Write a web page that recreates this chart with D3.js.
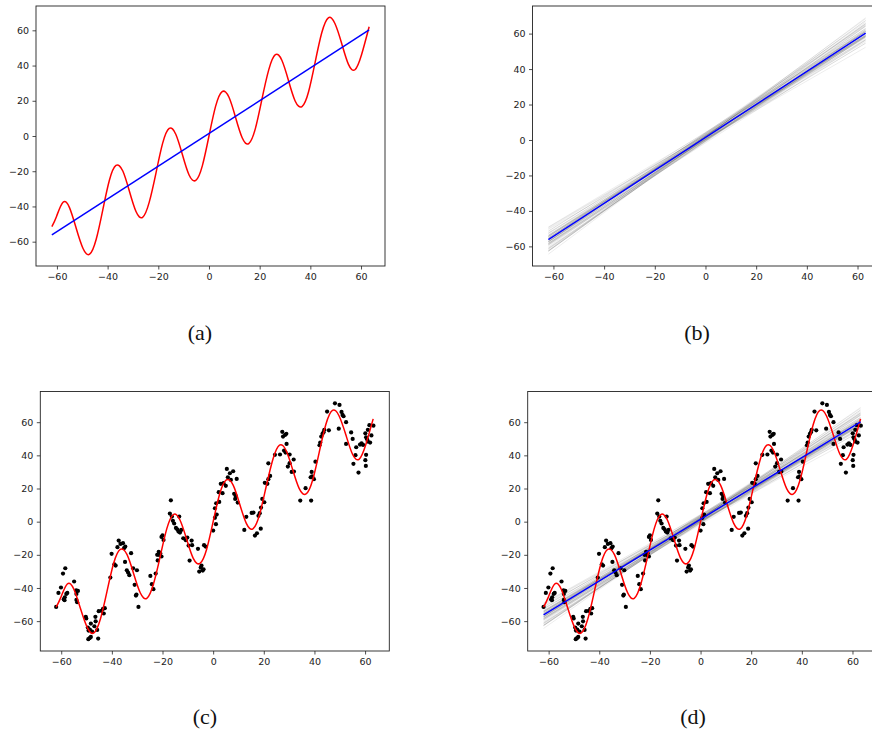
<!DOCTYPE html>
<html>
<head>
<meta charset="utf-8">
<script src="https://cdn.jsdelivr.net/npm/d3@7"></script>
<style>
	body { margin: 0; background: #fff; }
	svg { display: block; }
	.tick text { font-family: "DejaVu Sans", sans-serif; font-size: 9.5px; fill: #222; }
	.tick line { stroke: #222; stroke-width: 0.8; }
	.caption { font-family: "Liberation Serif", "DejaVu Serif", serif; font-size: 22px; fill: #111; }
</style>
</head>
<body>
<div id="figure"></div>
<script>
// Tick values shared by every panel
var xTicks = [-60, -40, -20, 0, 20, 40, 60];
var yTicks = [-60, -40, -20, 0, 20, 40, 60];
var panelLabels = ["(a)", "(b)", "(c)", "(d)"];

// Red curve (the true function)
var curveX = [-62.0, -60.2, -57.6, -55.0, -52.4, -49.7, -47.1, -44.5, -41.9, -39.3, -36.7, -34.0, -31.4,
	-28.8, -26.2, -23.6, -20.9, -18.3, -15.7, -13.1, -10.5, -7.9, -5.2, -2.6, 0, 2.6, 5.2, 7.9, 10.5,
	13.1, 15.7, 18.3, 20.9, 23.6, 26.2, 28.8, 31.4, 34.0, 36.7, 39.3, 41.9, 44.5, 47.1, 49.7, 52.4,
	55.0, 57.6, 60.2, 63.2];
var curveY = [-51.5, -45.8, -37.6, -40.8, -52.4, -63.9, -67.1, -58.6, -41.9, -25.1, -16.7, -19.9, -31.4,
	-42.9, -46.2, -37.7, -20.9, -4.2, 4.3, 1.0, -10.5, -22.0, -25.2, -16.8, 0, 16.8, 25.2, 22.0, 10.5,
	-1.0, -4.3, 4.2, 20.9, 37.7, 46.2, 42.9, 31.4, 19.9, 16.7, 25.1, 41.9, 58.6, 67.1, 63.9, 52.4,
	40.8, 37.6, 46.1, 62.0];

// Blue fitted line (end points)
var fitX = [-62.0, 63.2];
var fitY = [-56.2, 60.2];

// Grey sampled lines: y at the left end and at the right end
var sampleLeft = [-55.3, -59.0, -52.8, -61.6, -52.3, -59.5, -53.9, -62.7, -49.9, -60.9, -51.5, -58.4, -64.4,
	-50.4, -54.5, -61.4, -54.4, -61.1, -51.3, -58.3, -55.3, -57.5, -53.6, -62.6, -55.7, -57.3, -60.3, -52.6,
	-56.9, -55.2, -55.6, -62.5, -49.3, -58.5, -58.0, -53.7, -57.5, -62.3, -49.1, -59.0, -54.6, -58.5, -59.2,
	-55.5, -62.8, -54.3, -57.4, -57.2, -54.2, -57.3];
var sampleRight = [62.0, 61.3, 61.1, 62.0, 57.6, 59.7, 61.0, 65.7, 56.5, 60.3, 61.3, 59.9, 68.9,
	52.3, 62.8, 61.3, 58.9, 64.1, 58.8, 58.4, 59.2, 65.1, 54.6, 67.4, 60.3, 59.0, 65.4, 54.6,
	62.6, 56.4, 64.7, 64.2, 55.5, 56.3, 65.7, 59.2, 58.4, 68.4, 58.2, 62.0, 58.0, 64.4, 58.3,
	61.3, 67.3, 56.9, 66.5, 58.9, 58.5, 63.0];

// Noisy observations
var dotX = [-62.0, -61.1, -60.1, -59.3, -58.4, -59.0, -58.6, -58.0, -57.6, -58.7, -54.9, -54.1, -53.4, -54.0,
	-54.0, -53.7, -50.3, -50.1, -49.5, -49.2, -48.7, -48.3, -47.8, -46.9, -46.4, -46.5, -45.8, -45.4, -45.2,
	-44.1, -43.5, -43.2, -42.8, -49.3, -48.8, -48.3, -40.6, -40.1, -39.0, -38.5, -37.8, -37.3, -36.6, -35.6,
	-35.2, -34.7, -34.8, -34.1, -33.6, -33.1, -32.4, -31.6, -31.0, -30.5, -30.1, -30.3, -29.5, -24.8, -24.2,
	-23.6, -22.7, -22.1, -21.9, -21.5, -21.0, -20.9, -20.4, -20.0, -19.6, -20.4, -17.1, -16.7, -16.3, -15.9,
	-15.4, -14.7, -14.2, -13.7, -13.1, -13.4, -12.6, -11.8, -10.8, -10.2, -9.7, -9.3, -8.5, -8.3, -6.0, -4.9,
	-4.6, -4.1, -3.8, -3.6, -3.0, -5.5, 0.0, 0.7, 1.1, 1.4, 0.7, 1.2, 2.2, 2.4, 3.0, 3.7, 4.1, 5.0, 5.4, 5.8,
	6.6, 7.0, 7.9, 8.3, 8.7, 8.9, 9.3, 9.7, 12.3, 13.1, 15.2, 15.9, 16.5, 17.3, 17.9, 18.4, 18.8, 18.9, 19.4,
	20.2, 20.4, 21.4, 21.8, 22.5, 21.8, 24.4, 26.4, 27.3, 27.6, 28.4, 28.9, 28.0, 29.0, 28.6, 30.2, 29.5, 30.2,
	31.8, 31.0, 31.9, 34.4, 36.5, 38.5, 38.9, 39.1, 38.7, 39.8, 40.4, 42.0, 42.3, 42.7, 43.2, 43.9, 43.6, 45.0,
	45.7, 48.1, 49.9, 49.6, 50.7, 51.1, 51.5, 52.5, 52.5, 54.5, 55.1, 55.4, 56.5, 56.2, 57.4, 58.0, 58.6, 59.2,
	60.1, 60.4, 60.8, 61.1, 60.4, 60.1, 60.3, 61.1, 61.7, 62.5, 63.3, 62.0];
var dotY = [-51.4, -43.0, -39.7, -31.3, -28.1, -46.8, -45.6, -43.6, -43.0, -47.4, -36.1, -41.4, -41.8, -43.6,
	-47.2, -48.6, -57.4, -58.4, -63.9, -65.7, -65.1, -61.5, -66.3, -63.1, -60.1, -57.4, -65.3, -70.5, -54.0,
	-53.8, -52.6, -55.4, -52.2, -70.9, -70.3, -69.5, -33.7, -19.4, -25.7, -26.5, -15.4, -11.4, -13.4, -13.0,
	-16.0, -15.0, -24.3, -29.3, -30.7, -32.3, -19.0, -28.1, -38.1, -44.6, -29.3, -44.0, -51.4, -32.7, -37.7,
	-40.7, -31.3, -20.0, -23.4, -18.2, -20.4, -19.0, -9.2, -8.2, -11.0, -21.0, 4.9, 12.9, 3.1, 0.5,
	-1.1, -3.8, -4.6, -6.0, -6.6, 3.1, -5.0, -10.0, -11.2, -9.6, -14.4, -23.5, -11.4, -14.2, -16.4, -27.7,
	-26.5, -29.5, -28.7, -14.2, -15.0, -30.1, -5.4, 2.3, -1.5, 4.3, 8.1, 11.1, 17.8, 11.9, 22.8, 17.2, 23.2, 21.6, 31.8, 26.8,
	29.2, 25.2, 30.4, 16.8, 13.7, 15.5, 25.8, 11.5, -5.0, 2.9, 5.3, 5.5, -8.4, -7.0, 3.5, 5.1, -4.2, 8.5, 13.7,
	11.7, 23.4, 22.8, 25.6, 27.6, 35.2, 40.3, 40.5, 54.2, 51.3, 52.3, 53.0, 42.9, 46.9, 41.7, 40.5, 33.2, 35.3,
	37.5, 30.0, 30.2, 12.7, 20.2, 26.8, 30.0, 27.4, 12.7, 25.6, 36.2, 46.1, 47.7, 51.3, 53.0, 55.4, 54.0, 66.4,
	55.1, 71.4, 70.4, 56.1, 66.2, 64.4, 63.6, 60.0, 46.9, 53.8, 49.9, 34.9, 44.9, 40.1, 29.6, 46.5, 47.3, 46.3,
	53.3, 50.9, 49.7, 48.3, 40.3, 37.1, 33.6, 55.4, 58.2, 52.0, 57.9, 47.7];

var width = 872, height = 734;

// pixel boxes of the four axes and what goes in them
var panels = [
	{box: [36, 6, 385, 266], curve: true, fit: true, samples: false, dots: false, cap: [200, 340]},
	{box: [532.5, 6, 881.5, 266], curve: false, fit: true, samples: true, dots: false, cap: [697, 340]},
	{box: [40.3, 391.5, 389.3, 651], curve: true, fit: false, samples: false, dots: true, cap: [205, 724]},
	{box: [527.7, 391.5, 876.7, 651], curve: true, fit: true, samples: true, dots: true, cap: [693, 724]}
];

var svg = d3.select("#figure").append("svg")
	.attr("width", width)
	.attr("height", height);

function pad(ext) {
	var m = (ext[1] - ext[0]) * 0.05;
	return [ext[0] - m, ext[1] + m];
}

function minusFormat(d) {
	return d < 0 ? "\u2212" + Math.abs(d) : "" + d;
}

panels.forEach(function (p, i) {
	// gather the data shown so the limits behave like matplotlib autoscale
	var xs = [], ys = [];
	if (p.curve) { xs = xs.concat(curveX); ys = ys.concat(curveY); }
	if (p.fit) { xs = xs.concat(fitX); ys = ys.concat(fitY); }
	if (p.samples) { xs = xs.concat(fitX); ys = ys.concat(sampleLeft, sampleRight); }
	if (p.dots) { xs = xs.concat(dotX); ys = ys.concat(dotY); }

	var x = d3.scaleLinear().domain(pad(d3.extent(xs))).range([p.box[0], p.box[2]]);
	var y = d3.scaleLinear().domain(pad(d3.extent(ys))).range([p.box[3], p.box[1]]);

	var g = svg.append("g");
	var clipId = "clip" + i;
	g.append("clipPath").attr("id", clipId).append("rect")
		.attr("x", p.box[0]).attr("y", p.box[1])
		.attr("width", p.box[2] - p.box[0]).attr("height", p.box[3] - p.box[1]);
	var plot = g.append("g").attr("clip-path", "url(#" + clipId + ")");

	if (p.dots) {
		plot.selectAll("circle.obs").data(dotX).enter().append("circle")
			.attr("class", "obs")
			.attr("cx", function (d) { return x(d); })
			.attr("cy", function (d, j) { return y(dotY[j]); })
			.attr("r", 2.1)
			.attr("fill", "#000");
	}

	if (p.samples) {
		plot.selectAll("line.sample").data(sampleLeft).enter().append("line")
			.attr("class", "sample")
			.attr("x1", x(fitX[0]))
			.attr("x2", x(fitX[1]))
			.attr("y1", function (d) { return y(d); })
			.attr("y2", function (d, j) { return y(sampleRight[j]); })
			.attr("stroke", "#000")
			.attr("stroke-opacity", 0.075)
			.attr("stroke-width", 1);
	}

	if (p.curve) {
		var line = d3.line()
			.x(function (d) { return x(d); })
			.y(function (d, j) { return y(curveY[j]); })
			.curve(d3.curveNatural);
		plot.append("path")
			.attr("d", line(curveX))
			.attr("fill", "none")
			.attr("stroke", "#ff0000")
			.attr("stroke-width", 1.5);
	}

	if (p.fit) {
		plot.append("line")
			.attr("x1", x(fitX[0])).attr("y1", y(fitY[0]))
			.attr("x2", x(fitX[1])).attr("y2", y(fitY[1]))
			.attr("stroke", "#0000ff")
			.attr("stroke-width", 1.5);
	}

	// axes
	g.append("g")
		.attr("transform", "translate(0," + p.box[3] + ")")
		.call(d3.axisBottom(x).tickValues(xTicks).tickSize(3.5).tickPadding(3.5).tickFormat(minusFormat))
		.call(function (a) { a.select(".domain").remove(); });
	g.append("g")
		.attr("transform", "translate(" + p.box[0] + ",0)")
		.call(d3.axisLeft(y).tickValues(yTicks).tickSize(3.5).tickPadding(3.5).tickFormat(minusFormat))
		.call(function (a) { a.select(".domain").remove(); });

	g.append("rect")
		.attr("x", p.box[0]).attr("y", p.box[1])
		.attr("width", p.box[2] - p.box[0]).attr("height", p.box[3] - p.box[1])
		.attr("fill", "none")
		.attr("stroke", "#222")
		.attr("stroke-width", 0.9);

	svg.append("text")
		.attr("class", "caption")
		.attr("x", p.cap[0])
		.attr("y", p.cap[1])
		.attr("text-anchor", "middle")
		.text(panelLabels[i]);
});
</script>
</body>
</html>
